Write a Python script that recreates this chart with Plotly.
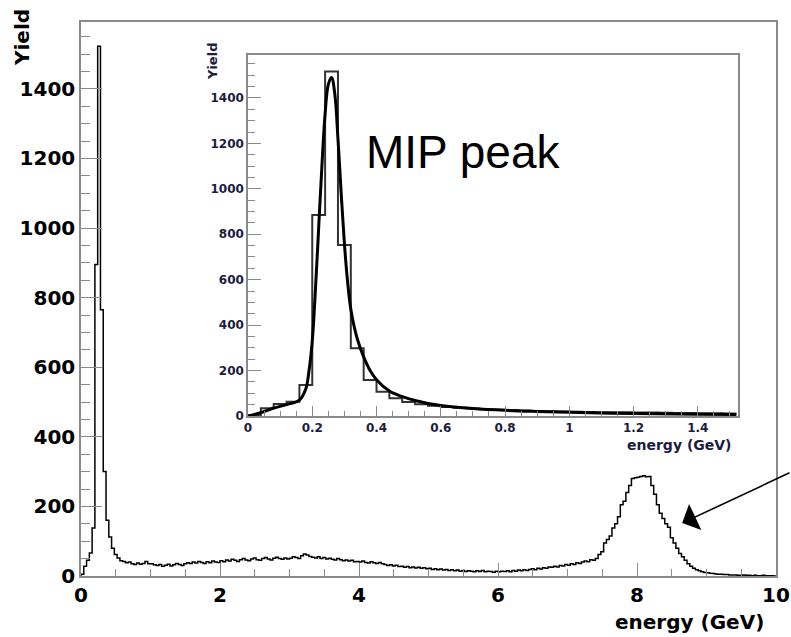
"""Energy spectrum with MIP peak inset (ROOT-style histogram)."""

import plotly.graph_objects as go

BIN_WIDTH = 0.04

# main histogram: counts per 0.04 GeV bin, 0 - 10 GeV (25 bins per GeV)
counts_0_1 = [5, 28, 45, 66, 138, 895, 1522, 765, 300, 160, 112, 80, 62, 52, 44,
              42, 38, 40, 35, 33, 37, 34, 36, 42, 35]
counts_1_2 = [35, 32, 30, 33, 28, 31, 34, 29, 32, 36, 33, 30, 35, 38, 36,
              40, 37, 42, 39, 36, 41, 38, 43, 40, 39]
counts_2_3 = [44, 41, 46, 43, 48, 45, 42, 47, 50, 46, 44, 49, 52, 47, 45,
              50, 53, 49, 46, 51, 54, 50, 48, 52, 49]
counts_3_4 = [51, 55, 53, 50, 58, 63, 60, 56, 54, 52, 55, 50, 53, 49, 51,
              48, 46, 50, 47, 44, 46, 43, 45, 41, 42]
counts_4_5 = [40, 43, 39, 37, 41, 38, 36, 39, 35, 33, 30, 32, 29, 31, 27,
              28, 25, 27, 24, 26, 23, 25, 22, 24, 21]
counts_5_6 = [22, 19, 21, 18, 20, 17, 19, 16, 18, 15, 17, 14, 16, 13, 15,
              14, 12, 15, 13, 16, 12, 14, 13, 11, 14]
counts_6_7 = [12, 14, 13, 15, 12, 16, 14, 17, 15, 18, 16, 19, 21, 18, 22,
              20, 24, 22, 26, 25, 28, 26, 30, 29, 33]
counts_7_8 = [31, 35, 33, 38, 36, 40, 43, 41, 47, 45, 50, 62, 70, 95, 105,
              115, 138, 150, 170, 205, 215, 240, 260, 280, 282]
counts_8_9 = [284, 286, 288, 285, 286, 260, 235, 205, 180, 165, 150, 140, 110, 95, 80,
              65, 55, 45, 35, 28, 22, 18, 15, 12, 10]
counts_9_10 = [9, 8, 7, 6, 5, 5, 4, 4, 3, 3, 3, 2, 2, 3, 2,
               2, 1, 2, 1, 1, 2, 1, 1, 1, 0]

main_counts = (counts_0_1 + counts_1_2 + counts_2_3 + counts_3_4 + counts_4_5
               + counts_5_6 + counts_6_7 + counts_7_8 + counts_8_9 + counts_9_10)

# inset histogram 0 - 1.52 GeV
inset_counts = [3, 34, 53, 63, 137, 885, 1516, 753, 298, 159, 107, 78, 62, 52, 45,
                40, 36, 33, 30, 28, 26, 24, 22, 21, 20, 19, 18, 17, 16, 16,
                15, 15, 14, 13, 13, 12, 12, 11]

# fit curve
fit_x = [0.0, 0.04, 0.08, 0.12, 0.16, 0.18, 0.19, 0.20, 0.21, 0.22, 0.23, 0.24,
         0.25, 0.26, 0.27, 0.28, 0.29, 0.30, 0.31, 0.32, 0.34, 0.36, 0.38, 0.40,
         0.44, 0.48, 0.52, 0.56, 0.60, 0.70, 0.80, 0.90, 1.00, 1.20, 1.40, 1.52]
fit_y = [0, 15, 35, 50, 70, 120, 200, 330, 560, 830, 1100, 1330,
         1460, 1490, 1420, 1220, 980, 760, 590, 470, 340, 260, 200, 160,
         110, 85, 68, 55, 46, 33, 25, 20, 16, 11, 8, 7]

main_xticks = [0, 2, 4, 6, 8, 10]
main_yticks = [0, 200, 400, 600, 800, 1000, 1200, 1400]
inset_xticks = [0, 0.2, 0.4, 0.6, 0.8, 1, 1.2, 1.4]
inset_yticks = [0, 200, 400, 600, 800, 1000, 1200, 1400]


def step_xy(counts):
    edges = [i * BIN_WIDTH for i in range(len(counts) + 1)]
    xs = [0] + edges
    ys = [0] + counts + [counts[-1]]
    return xs, ys


W, H = 791, 637
L, R, T, B = 81, 15, 22, 61
PW, PH = W - L - R, H - T - B


def px(x):
    return (x - L) / PW


def py(y):
    return (H - B - y) / PH


AXCOL = '#8a8a8a'
BOLD = dict(family='DejaVu Sans', size=20, color='black', weight='bold')
SMALL = dict(family='DejaVu Sans', size=12, color='#1c1c40', weight='bold')

fig = go.Figure()

mx, my = step_xy(main_counts)
fig.add_trace(go.Scatter(x=mx, y=my, mode='lines', line_shape='hv',
                         line=dict(color='black', width=1.5), showlegend=False))

ix, iy = step_xy(inset_counts)
fig.add_trace(go.Scatter(x=ix, y=iy, mode='lines', line_shape='hv',
                         line=dict(color='#333333', width=2),
                         xaxis='x2', yaxis='y2', showlegend=False))
fig.add_trace(go.Scatter(x=fit_x, y=fit_y, mode='lines', line_shape='spline',
                         line=dict(color='black', width=3),
                         xaxis='x2', yaxis='y2', showlegend=False))

common = dict(showgrid=False, zeroline=False, showline=True, mirror=True,
              linecolor=AXCOL, linewidth=1.5, ticks='inside', tickcolor=AXCOL,
              tickwidth=1.2, ticklabeloverflow='allow', automargin=False)

fig.update_layout(
    width=W, height=H,
    margin=dict(l=L, r=R, t=T, b=B),
    paper_bgcolor='white', plot_bgcolor='white',
    xaxis=dict(range=[0, 10], tickvals=main_xticks, ticklen=13,
               minor=dict(dtick=0.5, ticklen=7, tickcolor=AXCOL, ticks='inside'),
               tickfont=BOLD, **common),
    yaxis=dict(range=[0, 1592], tickvals=main_yticks, ticklen=21,
               minor=dict(dtick=50, ticklen=9, tickcolor=AXCOL, ticks='inside'),
               tickfont=BOLD, **common),
    xaxis2=dict(domain=[px(248), px(738)], anchor='y2', range=[0, 1.525],
                tickvals=inset_xticks, ticklen=10,
                minor=dict(dtick=0.05, ticklen=5, tickcolor=AXCOL, ticks='inside'),
                tickfont=SMALL, **common),
    yaxis2=dict(domain=[py(416), py(55)], anchor='x2', range=[0, 1589],
                tickvals=inset_yticks, ticklen=13,
                minor=dict(dtick=50, ticklen=7, tickcolor=AXCOL, ticks='inside'),
                tickfont=SMALL, **common),
)

fig.add_annotation(text='Yield', xref='paper', yref='paper', x=px(22), y=py(38),
                   xanchor='center', yanchor='middle', textangle=-90, showarrow=False,
                   font=dict(family='DejaVu Sans', size=20, color='black', weight='bold'))
fig.add_annotation(text='energy (GeV)', xref='paper', yref='paper', x=px(766), y=py(622),
                   xanchor='right', yanchor='middle', showarrow=False,
                   font=dict(family='DejaVu Sans', size=20, color='black', weight='bold'))
fig.add_annotation(text='Yield', xref='paper', yref='paper', x=px(212), y=py(62),
                   xanchor='center', yanchor='middle', textangle=-90, showarrow=False,
                   font=dict(family='DejaVu Sans', size=13, color='#1c1c40', weight='bold'))
fig.add_annotation(text='energy (GeV)', xref='paper', yref='paper', x=px(734), y=py(445),
                   xanchor='right', yanchor='middle', showarrow=False,
                   font=dict(family='DejaVu Sans', size=14, color='#1c1c40', weight='bold'))
fig.add_annotation(text='MIP peak', xref='paper', yref='paper', x=px(364), y=py(152),
                   xanchor='left', yanchor='middle', showarrow=False,
                   font=dict(family='Liberation Sans', size=46, color='black'))
fig.add_annotation(text='', x=8.65, y=152, xref='x', yref='y',
                   ax=110, ay=-51, axref='pixel', ayref='pixel',
                   showarrow=True, arrowhead=1, arrowsize=3, arrowwidth=1.6,
                   arrowcolor='black', standoff=0)

fig.write_html("out.html", config={'displayModeBar': False},
               post_script="document.body.style.margin='0';")
